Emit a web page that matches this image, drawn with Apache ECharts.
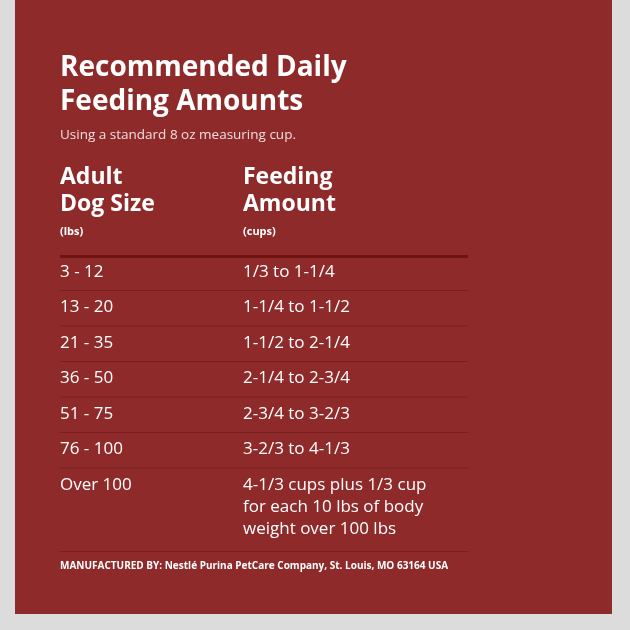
<!DOCTYPE html>
<html>
<head>
<meta charset="utf-8">
<script src="https://cdn.jsdelivr.net/npm/echarts@6/dist/echarts.min.js"></script>
<style>html,body{margin:0;padding:0;background:#dcdcdc}#main{width:630px;height:630px}</style>
</head>
<body>
<div id="main"></div>
<script>
const titleLines = ['Recommended Daily', 'Feeding Amounts'];
const subtitle = 'Using a standard 8 oz measuring cup.';
const dogSizes = ['3 - 12', '13 - 20', '21 - 35', '36 - 50', '51 - 75', '76 - 100', 'Over 100'];
const amounts = ['1/3 to 1-1/4', '1-1/4 to 1-1/2', '1-1/2 to 2-1/4', '2-1/4 to 2-3/4',
    '2-3/4 to 3-2/3', '3-2/3 to 4-1/3', '4-1/3 cups plus 1/3 cup\nfor each 10 lbs of body\nweight over 100 lbs'];
const footer = 'MANUFACTURED BY: Nestlé Purina PetCare Company, St. Louis, MO 63164 USA';

const myChart = echarts.init(document.getElementById('main'));
const font = '"Open Sans", sans-serif';
const white = '#ffffff';
const graphic = [];

// panel
graphic.push({ type: 'rect', shape: { x: 15, y: 0, width: 597, height: 614 }, style: { fill: '#8f2a2b' } });

titleLines.forEach((t, i) => {
    graphic.push({ type: 'text', x: 60, y: 54 + i * 34, style: { text: t, fill: white, font: 'bold 28px ' + font } });
});
graphic.push({ type: 'text', x: 60, y: 128, style: { text: subtitle, fill: '#f0dede', font: '13.5px ' + font } });

// headers
const hdr = { fill: white, font: 'bold 23px ' + font, lineHeight: 27 };
graphic.push({ type: 'text', x: 60, y: 164, style: Object.assign({ text: 'Adult\nDog Size' }, hdr) });
graphic.push({ type: 'text', x: 243, y: 164, style: Object.assign({ text: 'Feeding\nAmount' }, hdr) });
graphic.push({ type: 'text', x: 60, y: 226, style: { text: '(lbs)', fill: white, font: 'bold 11px ' + font } });
graphic.push({ type: 'text', x: 243, y: 226, style: { text: '(cups)', fill: white, font: 'bold 11px ' + font } });
graphic.push({ type: 'rect', shape: { x: 60, y: 255, width: 408, height: 3 }, style: { fill: '#6e1414' } });

const rowH = 35.5;
dogSizes.forEach((s, i) => {
    const y = 261 + i * rowH;
    const st = { fill: white, font: '17px ' + font, lineHeight: 22 };
    graphic.push({ type: 'text', x: 60, y: y, style: Object.assign({ text: s }, st) });
    graphic.push({ type: 'text', x: 243, y: y, style: Object.assign({ text: amounts[i] }, st) });
    const ly = i < dogSizes.length - 1 ? 290 + i * rowH : 551;
    graphic.push({ type: 'rect', shape: { x: 60, y: ly, width: 408, height: 1 }, style: { fill: '#7a1e1f' } });
});

graphic.push({ type: 'text', x: 60, y: 561, style: { text: footer, fill: white, font: 'bold 10px ' + font } });

myChart.setOption({ backgroundColor: '#dcdcdc', graphic: graphic });
</script>
</body>
</html>
